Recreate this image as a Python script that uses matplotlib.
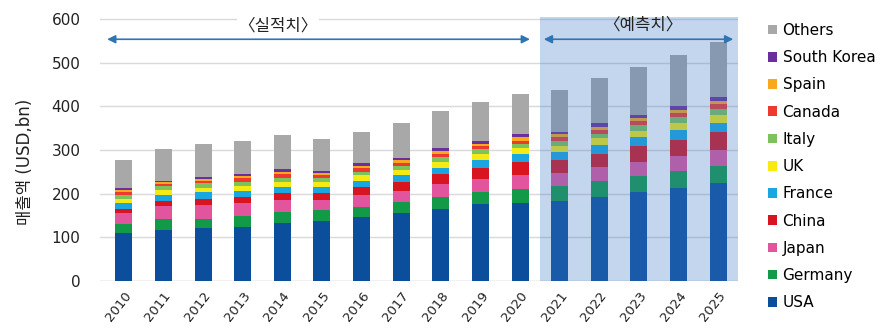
import matplotlib
matplotlib.use("Agg")
import matplotlib.pyplot as plt
from matplotlib.patches import Patch
import numpy as np

plt.rcParams['font.family'] = ['DejaVu Sans', 'Noto Sans CJK KR']

years = [str(y) for y in range(2010, 2026)]
usa     = [109, 117, 121, 124, 132, 138, 147, 155, 164, 176, 179, 183, 193, 203, 212, 224]
germany = [21, 24, 22, 26, 27, 25, 23, 26, 29, 29, 32, 35, 36, 38, 39, 39]
japan   = [26, 32, 32, 28, 26, 23, 27, 26, 29, 29, 33, 30, 33, 32, 35, 37]
china   = [9, 10, 13, 15, 17, 16, 19, 20, 23, 26, 28, 29, 30, 36, 38, 41]
france  = [13, 14, 15, 14, 14, 14, 14, 16, 15, 17, 19, 18, 19, 20, 22, 22]
uk      = [10, 11, 11, 11, 11, 11, 13, 11, 13, 14, 13, 14, 16, 15, 16, 17]
italy   = [9, 10, 10, 10, 10, 10, 7, 10, 12, 11, 10, 12, 11, 13, 13, 14]
canada  = [6, 5, 6, 7, 8, 6, 8, 7, 7, 7, 7, 8, 9, 9, 9, 11]
spain   = [5, 3, 4, 5, 5, 5, 5, 6, 6, 5, 8, 7, 6, 7, 9, 8]
korea   = [6, 3, 4, 6, 6, 5, 7, 5, 6, 7, 7, 6, 8, 7, 8, 9]
others  = [63, 73, 76, 74, 78, 72, 72, 80, 86, 89, 92, 95, 105, 111, 118, 125]

series_names = ['USA', 'Germany', 'Japan', 'China', 'France', 'UK', 'Italy',
                'Canada', 'Spain', 'South Korea', 'Others']
series_vals = [usa, germany, japan, china, france, uk, italy, canada, spain, korea, others]
colors = ['#0b4f9c', '#139a48', '#e2559e', '#d7141f', '#1aa7e1', '#f5ea14',
          '#7dc35b', '#ee3a2e', '#f8a81c', '#6b2f9d', '#a8a8a8']

fig = plt.figure(figsize=(8.92, 3.36), dpi=100)
ax = fig.add_axes([100/892, 1-281/336, (738-100)/892, (281-17)/336])

x = np.arange(len(years))
bottom = np.zeros(len(years))
for name, vals, c in zip(series_names, series_vals, colors):
    ax.bar(x, vals, bottom=bottom, width=0.43, color=c, zorder=2, label=name)
    bottom += np.array(vals)

ax.set_xlim(-0.6, 15.5)
ax.set_ylim(0, 605)
ax.set_yticks(range(0, 601, 100))
ax.yaxis.grid(True, color='#d9d9d9', lw=1, zorder=0)
ax.set_axisbelow(True)
for s in ax.spines.values():
    s.set_visible(False)
ax.axhline(0, color='#d9d9d9', lw=1, zorder=1)
ax.tick_params(length=0)
ax.tick_params(axis='y', labelsize=11, colors='#222222', pad=14)
ax.set_xticks(x)
ax.set_xticklabels(years, rotation=52, ha='right', va='top', rotation_mode='anchor',
                   fontsize=9.5, color='#222222')
ax.tick_params(axis='x', pad=6)
ax.set_ylabel('매출액 (USD,bn)', fontsize=12, color='#222222')
ax.yaxis.set_label_coords(-66/638, (281-162)/264)

# forecast shading overlay
ax.axvspan(10.5, 15.5, ymin=0, ymax=1, color='#3d78c8', alpha=0.3, lw=0, zorder=3)

# arrows
acol = '#2e75b6'
ax.annotate('', xy=(-0.42, 554), xytext=(10.25, 554),
            arrowprops=dict(arrowstyle='<|-|>', color=acol, lw=1.2, mutation_scale=12,
                            shrinkA=0, shrinkB=0), zorder=4)
ax.annotate('', xy=(10.6, 554), xytext=(15.38, 554),
            arrowprops=dict(arrowstyle='<|-|>', color=acol, lw=1.2, mutation_scale=12,
                            shrinkA=0, shrinkB=0), zorder=4)
ax.text(3.9, 584, '〈실적치〉', ha='center', va='center', fontsize=12, color='#222222',
        family=['Noto Sans CJK KR'],
        bbox=dict(facecolor='white', edgecolor='none', pad=1), zorder=4)
ax.text(13.1, 586, '〈예측치〉', ha='center', va='center', fontsize=12, color='#222222',
        family=['Noto Sans CJK KR'], zorder=4)

handles = [Patch(facecolor=c, edgecolor='none') for c in colors][::-1]
labels = series_names[::-1]
fig.legend(handles, labels, loc='upper left', bbox_to_anchor=(768/892, 1-23/336),
           frameon=False, fontsize=11, handlelength=0.6, handleheight=0.6,
           handletextpad=0.35, labelspacing=0.8, borderaxespad=0, borderpad=0)

fig.savefig('out.png', dpi=100)
